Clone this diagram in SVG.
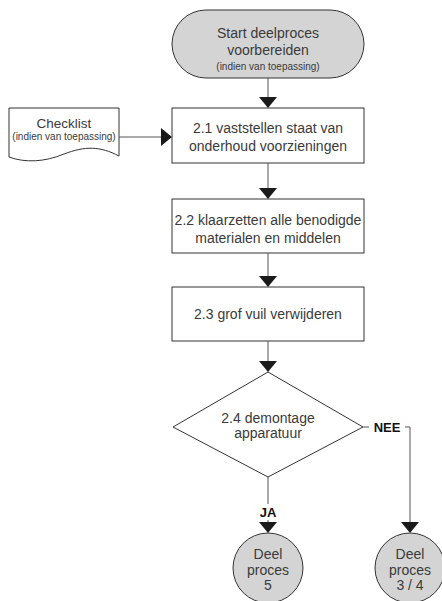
<svg xmlns="http://www.w3.org/2000/svg" width="442" height="601" viewBox="0 0 442 601">
<defs>
<style>
.sh{fill:#fff;stroke:#333;stroke-width:1}
.gr{fill:#d4d4d4;stroke:#333;stroke-width:1}
.t{font-family:"Liberation Sans",Arial,sans-serif;font-size:14px;fill:#3a3a3a;text-anchor:middle}
.s{font-size:10px}
.b{font-family:"Liberation Sans",Arial,sans-serif;font-size:13px;font-weight:bold;fill:#111;text-anchor:middle}
.ln{fill:none;stroke:#555;stroke-width:1}
.ah{fill:#1a1a1a}
</style>
</defs>
<rect width="442" height="601" fill="#fff"/>
<g id="start">
<rect class="gr" x="172" y="10" width="192" height="68" rx="34" ry="34"/>
<text class="t" x="268" y="38">Start deelproces</text>
<text class="t" x="268" y="55">voorbereiden</text>
<text class="t s" x="268" y="70">(indien van toepassing)</text>
</g>
<g id="checklist">
<path class="sh" d="M9,108 H119 V156 C100,146 85,146 64,154 C45,162 25,163 9,157 Z"/>
<text class="t" x="64" y="128" style="font-size:13.5px">Checklist</text>
<text class="t s" x="64" y="140">(indien van toepassing)</text>
</g>
<g id="n21">
<rect class="sh" x="172" y="108" width="192" height="55"/>
<text class="t" x="268" y="133">2.1 vaststellen staat van</text>
<text class="t" x="268" y="151">onderhoud voorzieningen</text>
</g>
<g id="n22">
<rect class="sh" x="172" y="199" width="192" height="54"/>
<text class="t" x="268" y="225">2.2 klaarzetten alle benodigde</text>
<text class="t" x="268" y="243">materialen en middelen</text>
</g>
<g id="n23">
<rect class="sh" x="172" y="287" width="192" height="54"/>
<text class="t" x="268" y="319">2.3 grof vuil verwijderen</text>
</g>
<g id="n24">
<polygon class="sh" points="268,372 363,427 268,477 173,427"/>
<text class="t" x="268" y="423">2.4 demontage</text>
<text class="t" x="268" y="438">apparatuur</text>
</g>
<g id="dp5">
<circle class="gr" cx="268" cy="568" r="35"/>
<text class="t" x="268" y="559">Deel</text>
<text class="t" x="268" y="575">proces</text>
<text class="t" x="268" y="590">5</text>
</g>
<g id="dp34">
<circle class="gr" cx="410" cy="568" r="35"/>
<text class="t" x="410" y="559">Deel</text>
<text class="t" x="410" y="575">proces</text>
<text class="t" x="410" y="590">3 / 4</text>
</g>
<g id="connectors">
<path class="ln" d="M268,78 V98"/>
<polygon class="ah" points="259,97 277,97 268,108"/>
<path class="ln" d="M119,137 H162"/>
<polygon class="ah" points="161,128 161,146 172,137"/>
<path class="ln" d="M268,163 V189"/>
<polygon class="ah" points="259,188 277,188 268,199"/>
<path class="ln" d="M268,253 V277"/>
<polygon class="ah" points="259,276 277,276 268,287"/>
<path class="ln" d="M268,341 V362"/>
<polygon class="ah" points="259,361 277,361 268,372"/>
<path class="ln" d="M268,477 V504 M268,520 V524"/>
<text class="b" x="268" y="517">JA</text>
<polygon class="ah" points="259,522 277,522 268,533"/>
<path class="ln" d="M363,427 H369 M405,427 H410 V523"/>
<text class="b" x="387" y="432">NEE</text>
<polygon class="ah" points="401,522 419,522 410,533"/>
</g>
</svg>
